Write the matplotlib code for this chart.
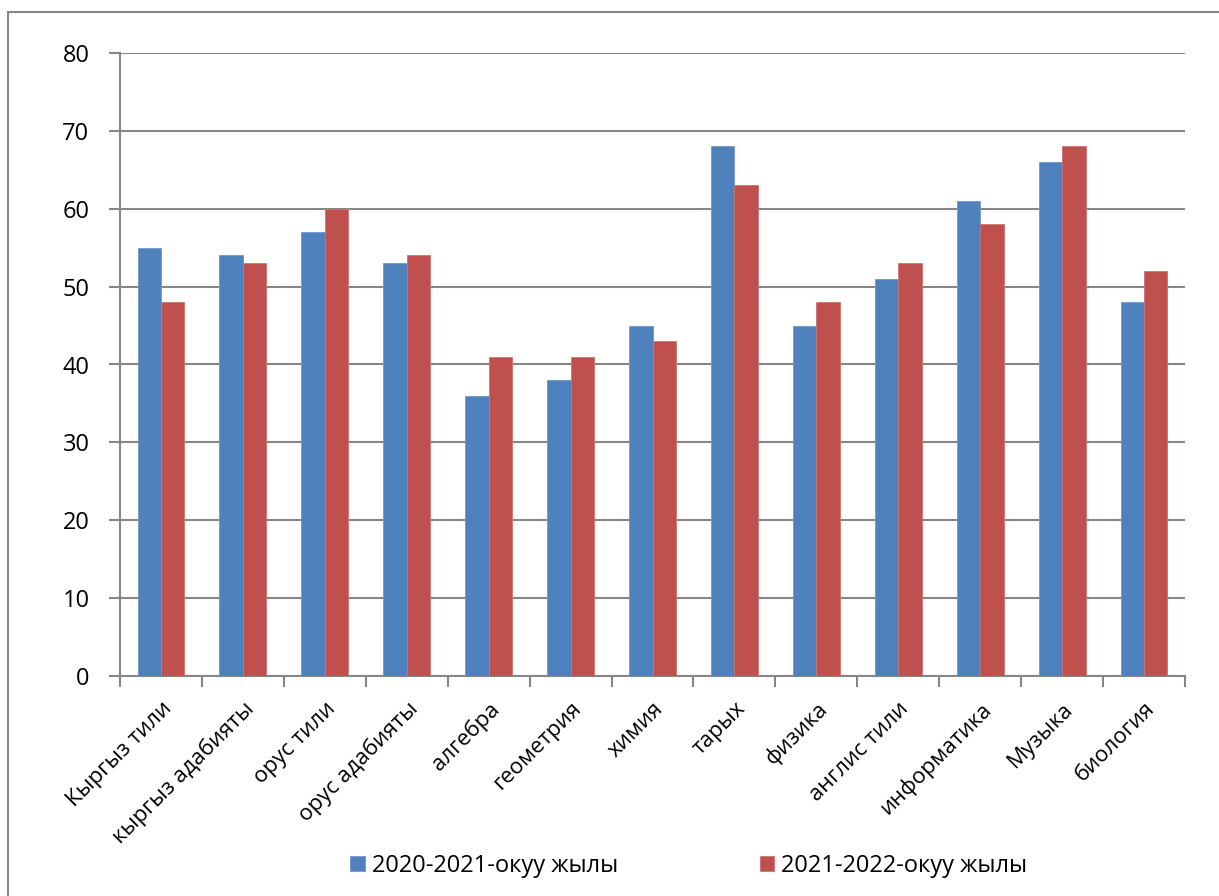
import matplotlib.pyplot as plt
import matplotlib.patches as mpatches
import numpy as np

plt.rcParams['font.family'] = ['Open Sans', 'DejaVu Sans']

subjects = ['Кыргыз тили', 'кыргыз адабияты', 'орус тили', 'орус адабияты',
            'алгебра', 'геометрия', 'химия', 'тарых', 'физика', 'англис тили',
            'информатика', 'Музыка', 'биология']
year1 = [55, 54, 57, 53, 36, 38, 45, 68, 45, 51, 61, 66, 48]
year2 = [48, 53, 60, 54, 41, 41, 43, 63, 48, 53, 58, 68, 52]
labels = ['2020-2021-окуу жылы', '2021-2022-окуу жылы']

blue = '#4f81bd'
red = '#c0504d'
grey = '#868686'

fig = plt.figure(figsize=(12.19, 8.96), dpi=100)
ax = fig.add_axes([120 / 1219, 1 - 676 / 896, 1065 / 1219, 623 / 896])

# рамка вокруг диаграммы
fig.patches.append(mpatches.Rectangle((8 / 1219, -0.05), 1.1, 1 - 12 / 896 + 0.05,
                                      transform=fig.transFigure, fill=False,
                                      edgecolor=grey, linewidth=1.5))

x = np.arange(len(subjects))
w = 0.286
ax.bar(x - w / 2, year1, w, color=blue, edgecolor='#6f97c9', linewidth=0.6, label=labels[0], zorder=3)
ax.bar(x + w / 2, year2, w, color=red, edgecolor='#cc7472', linewidth=0.6, label=labels[1], zorder=3)

ax.set_xlim(-0.5, len(subjects) - 0.5)
ax.set_ylim(0, 80)
ax.set_yticks(range(0, 81, 10))
ax.yaxis.grid(True, color=grey, linewidth=1.5, zorder=0)
ax.tick_params(axis='y', labelsize=17, length=8, width=1.5, color=grey, pad=14)

ax.set_xticks(np.arange(-0.5, len(subjects), 1))
ax.set_xticklabels([])
ax.tick_params(axis='x', length=8, width=1.5, color=grey)
ax.set_xticks(x, minor=True)
ax.set_xticklabels(subjects, minor=True, rotation=45, ha='right',
                   rotation_mode='anchor', fontsize=16)
ax.tick_params(axis='x', which='minor', length=0, pad=16)

for s in ['top', 'right']:
    ax.spines[s].set_visible(False)
for s in ['left', 'bottom']:
    ax.spines[s].set_color(grey)
    ax.spines[s].set_linewidth(1.5)

fig.legend(loc='center', bbox_to_anchor=(0.565, 1 - 866 / 896), ncol=2,
           frameon=False, fontsize=17, handlelength=0.6, handleheight=0.6,
           handletextpad=0.3, columnspacing=6)

fig.savefig('out.png', dpi=100)
